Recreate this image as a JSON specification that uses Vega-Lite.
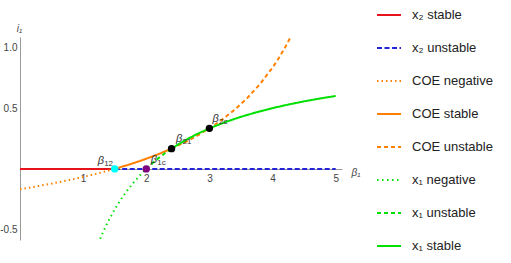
{
  "$schema": "https://vega.github.io/schema/vega-lite/v6.json",
  "autosize": "none",
  "width": 322,
  "height": 203,
  "padding": {"left": 20, "top": 37, "right": 169, "bottom": 23},
  "background": "white",
  "config": {"view": {"stroke": null}, "font": "Liberation Sans"},
  "datasets": {
    "lines": [
      {"s": "x₂ stable", "b": 0, "i": 0},
      {"s": "x₂ stable", "b": 1.5, "i": 0},
      {"s": "x₂ unstable", "b": 1.5, "i": 0},
      {"s": "x₂ unstable", "b": 5, "i": 0},
      {"s": "COE negative", "b": 0, "i": -0.1667},
      {"s": "COE negative", "b": 0.25, "i": -0.1449},
      {"s": "COE negative", "b": 0.5, "i": -0.1212},
      {"s": "COE negative", "b": 0.75, "i": -0.0952},
      {"s": "COE negative", "b": 1.0, "i": -0.0667},
      {"s": "COE negative", "b": 1.25, "i": -0.0351},
      {"s": "COE negative", "b": 1.5, "i": 0},
      {"s": "COE stable", "b": 1.5, "i": 0},
      {"s": "COE stable", "b": 1.7, "i": 0.031},
      {"s": "COE stable", "b": 1.9, "i": 0.065},
      {"s": "COE stable", "b": 2.1, "i": 0.1026},
      {"s": "COE stable", "b": 2.2, "i": 0.1228},
      {"s": "COE stable", "b": 2.4, "i": 0.1667},
      {"s": "COE unstable", "b": 2.4, "i": 0.1667},
      {"s": "COE unstable", "b": 2.6, "i": 0.2157},
      {"s": "COE unstable", "b": 2.8, "i": 0.2708},
      {"s": "COE unstable", "b": 3.0, "i": 0.3333},
      {"s": "COE unstable", "b": 3.2, "i": 0.4048},
      {"s": "COE unstable", "b": 3.4, "i": 0.4872},
      {"s": "COE unstable", "b": 3.6, "i": 0.5833},
      {"s": "COE unstable", "b": 3.8, "i": 0.697},
      {"s": "COE unstable", "b": 4.0, "i": 0.8333},
      {"s": "COE unstable", "b": 4.1, "i": 0.9123},
      {"s": "COE unstable", "b": 4.2, "i": 1.0},
      {"s": "COE unstable", "b": 4.3, "i": 1.098},
      {"s": "x₁ negative", "b": 1.27, "i": -0.5748},
      {"s": "x₁ negative", "b": 1.3, "i": -0.5385},
      {"s": "x₁ negative", "b": 1.35, "i": -0.4815},
      {"s": "x₁ negative", "b": 1.4, "i": -0.4286},
      {"s": "x₁ negative", "b": 1.5, "i": -0.3333},
      {"s": "x₁ negative", "b": 1.6, "i": -0.25},
      {"s": "x₁ negative", "b": 1.7, "i": -0.1765},
      {"s": "x₁ negative", "b": 1.8, "i": -0.1111},
      {"s": "x₁ negative", "b": 1.9, "i": -0.0526},
      {"s": "x₁ negative", "b": 2.0, "i": 0},
      {"s": "x₁ unstable", "b": 2.0, "i": 0},
      {"s": "x₁ unstable", "b": 2.1, "i": 0.0476},
      {"s": "x₁ unstable", "b": 2.2, "i": 0.0909},
      {"s": "x₁ unstable", "b": 2.3, "i": 0.1304},
      {"s": "x₁ unstable", "b": 2.4, "i": 0.1667},
      {"s": "x₁ stable", "b": 2.4, "i": 0.1667},
      {"s": "x₁ stable", "b": 2.6, "i": 0.2308},
      {"s": "x₁ stable", "b": 2.8, "i": 0.2857},
      {"s": "x₁ stable", "b": 3.0, "i": 0.3333},
      {"s": "x₁ stable", "b": 3.25, "i": 0.3846},
      {"s": "x₁ stable", "b": 3.5, "i": 0.4286},
      {"s": "x₁ stable", "b": 3.75, "i": 0.4667},
      {"s": "x₁ stable", "b": 4.0, "i": 0.5},
      {"s": "x₁ stable", "b": 4.25, "i": 0.5294},
      {"s": "x₁ stable", "b": 4.5, "i": 0.5556},
      {"s": "x₁ stable", "b": 4.75, "i": 0.5789},
      {"s": "x₁ stable", "b": 5.0, "i": 0.6}
    ],
    "points": [
      {"b": 1.5, "i": 0, "pc": "#00ffff"},
      {"b": 2.0, "i": 0, "pc": "#800080"},
      {"b": 2.4, "i": 0.1667, "pc": "#000000"},
      {"b": 3.0, "i": 0.3333, "pc": "#000000"}
    ],
    "labels": [
      {"b": 1.23, "i": 0.066, "t": "β", "sub": "12"},
      {"b": 2.07, "i": 0.074, "t": "β", "sub": "1c"},
      {"b": 2.47, "i": 0.246, "t": "β", "sub": "21"},
      {"b": 3.05, "i": 0.414, "t": "β", "sub": "2c"}
    ]
  },
  "encoding": {
    "x": {
      "field": "b", "type": "quantitative",
      "scale": {"domain": [0, 5.1], "nice": false, "zero": false},
      "axis": {
        "orient": "bottom", "offset": -71, "grid": false, "title": "β₁",
        "values": [0.2,0.4,0.6,0.8,1,1.2,1.4,1.6,1.8,2,2.2,2.4,2.6,2.8,3,3.2,3.4,3.6,3.8,4,4.2,4.4,4.6,4.8,5],
        "labelExpr": "datum.value % 1 === 0 ? format(datum.value, 'd') : ''",
        "tickSize": 0,
        "labelPadding": 4,
        "encode": {
          "ticks": {
            "update": {"y2": {"signal": "datum.value % 1 === 0 ? -4 : -2"}}
          }
        },
        "domainColor": "#999999", "tickColor": "#888888", "labelColor": "#444444",
        "labelFontSize": 10, "labelFont": "Liberation Sans",
        "titleX": 331, "titleY": 3, "titleAlign": "left", "titleBaseline": "middle",
        "titleFontStyle": "italic", "titleFontWeight": "normal", "titleFontSize": 10, "titleColor": "#444444"
      }
    },
    "y": {
      "field": "i", "type": "quantitative",
      "scale": {"domain": [-0.585, 1.085], "nice": false, "zero": false},
      "axis": {
        "orient": "left", "grid": false, "title": "i₁",
        "values": [-0.5,-0.4,-0.3,-0.2,-0.1,0.1,0.2,0.3,0.4,0.5,0.6,0.7,0.8,0.9,1.0],
        "labelExpr": "datum.value % 0.5 === 0 ? replace(format(datum.value, '.1f'), '−', '-') : ''",
        "tickSize": 0,
        "labelPadding": 3,
        "encode": {
          "ticks": {
            "update": {"x2": {"signal": "datum.value % 0.5 === 0 ? 4 : 2"}}
          }
        },
        "domainColor": "#999999", "tickColor": "#888888", "labelColor": "#444444",
        "labelFontSize": 10, "labelFont": "Liberation Sans",
        "titleAngle": 0, "titleX": -1, "titleY": -6, "titleAlign": "center", "titleBaseline": "alphabetic",
        "titleFontStyle": "italic", "titleFontWeight": "normal", "titleFontSize": 10, "titleColor": "#444444"
      }
    }
  },
  "layer": [
    {
      "data": {"name": "lines"},
      "mark": {"type": "line", "strokeWidth": 2, "clip": true},
      "encoding": {
        "color": {
          "field": "s", "type": "nominal",
          "scale": {
            "domain": ["x₂ stable", "x₂ unstable", "COE negative", "COE stable", "COE unstable", "x₁ negative", "x₁ unstable", "x₁ stable"],
            "range": ["#e8141c", "#2424d6", "#ff8000", "#ff8000", "#ff8000", "#00e000", "#00e000", "#00e000"]
          },
          "legend": {
            "title": null, "orient": "none", "legendX": 356, "legendY": -35,
            "symbolType": "stroke", "symbolStrokeWidth": 2, "symbolSize": 576,
            "labelFontSize": 13, "labelColor": "#222222", "labelOffset": 10, "rowPadding": 13,
            "labelFont": "Liberation Sans"
          }
        },
        "strokeDash": {
          "field": "s", "type": "nominal",
          "scale": {
            "domain": ["x₂ stable", "x₂ unstable", "COE negative", "COE stable", "COE unstable", "x₁ negative", "x₁ unstable", "x₁ stable"],
            "range": [[1, 0], [5, 2.5], [1.5, 3], [1, 0], [4, 3], [1.5, 3.5], [4, 3], [1, 0]]
          },
          "legend": {
            "title": null, "orient": "none", "legendX": 356, "legendY": -35,
            "symbolType": "stroke", "symbolStrokeWidth": 2, "symbolSize": 576,
            "labelFontSize": 13, "labelColor": "#222222", "labelOffset": 10, "rowPadding": 13,
            "labelFont": "Liberation Sans"
          }
        }
      }
    },
    {
      "data": {"name": "points"},
      "mark": {"type": "circle", "size": 55, "opacity": 1},
      "encoding": {
        "color": {"field": "pc", "type": "nominal", "scale": null}
      }
    },
    {
      "data": {"name": "labels"},
      "mark": {"type": "text", "align": "left", "baseline": "middle", "fontSize": 11, "fontStyle": "italic", "color": "#333333", "font": "Liberation Sans"},
      "encoding": {"text": {"field": "t"}}
    },
    {
      "data": {"name": "labels"},
      "mark": {"type": "text", "align": "left", "baseline": "middle", "fontSize": 8, "dx": 6.5, "dy": 3, "color": "#333333", "font": "Liberation Sans"},
      "encoding": {"text": {"field": "sub"}}
    }
  ]
}
